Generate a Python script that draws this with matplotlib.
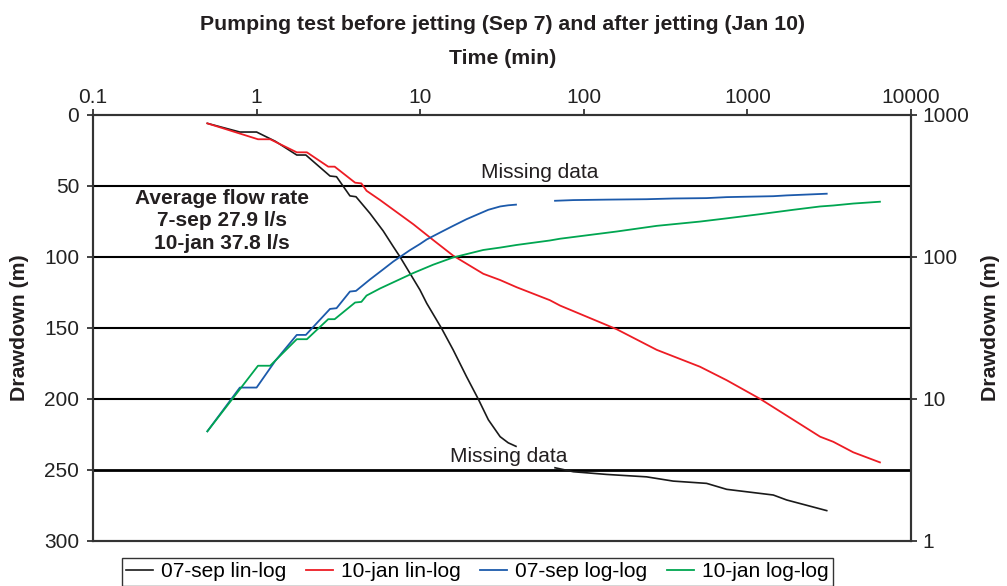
import numpy as np
import matplotlib
matplotlib.use("Agg")
import matplotlib.pyplot as plt

plt.rcParams['font.family'] = ['Liberation Sans', 'DejaVu Sans']

# Sep 7 test (before jetting): time (min), drawdown (m); nan marks the gap in the record
sep_time = [0.5, 0.79, 1.0, 1.3, 1.76, 2.0, 2.81, 3.08, 3.72, 4.05, 4.93, 5.94,
            6.85, 7.52, 8.66, 9.97, 10.96, 13.5, 15.9, 19.2, 22.6, 26.1, 30.8,
            34.5, 38.5, np.nan, 66.7, 86.3, 138, 242, 352, 563, 747, 1439, 1738, 3054]
sep_draw = [5.9, 12.0, 12.0, 18.5, 28.2, 28.2, 43.0, 43.5, 57.0, 57.6, 69.3, 81.7,
            92.8, 99.9, 111.6, 123.3, 132.7, 150.3, 165.5, 184.4, 200.0, 214.8, 226.7,
            231.0, 233.5, np.nan, 248.6, 251.4, 253.3, 255.0, 258.0, 259.6, 263.8, 267.8,
            271.3, 278.8]

# Jan 10 test (after jetting)
jan_time = [0.5, 1.02, 1.21, 1.76, 2.03, 2.74, 3.0, 4.0, 4.37, 4.7, 5.68, 9.08,
            12.0, 15.9, 24.3, 30.8, 38.9, 62, 71.6, 159, 279, 513, 747, 1194,
            1909, 2782, 3350, 4436, 6457]
jan_draw = [5.9, 17.1, 17.1, 26.3, 26.3, 36.4, 36.4, 47.7, 48.2, 53.4, 59.9, 77.0,
            88.1, 99.1, 111.9, 116.3, 121.4, 130.5, 134.3, 151.0, 165.5, 177.4, 186.9,
            200.0, 214.8, 226.7, 230.3, 237.7, 244.8]

x_ticks = [0.1, 1, 10, 100, 1000, 10000]
x_labels = ["0.1", "1", "10", "100", "1000", "10000"]
lin_ticks = [0, 50, 100, 150, 200, 250, 300]
log_ticks = [1, 10, 100, 1000]

c_black = "#1a1a1a"
c_red = "#ed1c24"
c_blue = "#1c5aab"
c_green = "#00a651"
fs = 15
fs_bold = 15.3

fig = plt.figure(figsize=(10.07, 5.86), dpi=100)
W, H = 1007, 586
ax = fig.add_axes([93 / W, 1 - 540.7 / H, (911 - 93) / W, (540.7 - 115) / H])
ax2 = ax.twinx()

# linear drawdown on the left axis
l1, = ax.plot(sep_time, sep_draw, color=c_black, lw=1.2, label="07-sep lin-log")
l2, = ax.plot(jan_time, jan_draw, color=c_red, lw=1.3, label="10-jan lin-log")
ax.set_xscale("log")
ax.set_xlim(0.1, 10000)
ax.set_ylim(300, 0)
ax.xaxis.tick_top()
ax.set_xticks(x_ticks)
ax.set_xticklabels(x_labels)
ax.xaxis.set_minor_locator(matplotlib.ticker.NullLocator())
ax.set_yticks(lin_ticks)
for v in lin_ticks[1:-1]:
    ax.axhline(v, color="black", lw=1.5 if v != 250 else 2.0, zorder=1)
ax.tick_params(axis="both", labelsize=fs, direction="out", length=4, width=1.2,
               colors="#222222", pad=6)
ax.tick_params(axis="x", pad=1.5)

# log drawdown on the right axis
l3, = ax2.plot(sep_time, sep_draw, color=c_blue, lw=1.3, label="07-sep log-log")
l4, = ax2.plot(jan_time, jan_draw, color=c_green, lw=1.3, label="10-jan log-log")
ax2.set_yscale("log")
ax2.set_ylim(1, 1000)
ax2.set_yticks(log_ticks)
ax2.set_yticklabels([str(v) for v in log_ticks])
ax2.yaxis.set_minor_locator(matplotlib.ticker.NullLocator())
ax2.tick_params(axis="y", labelsize=fs, direction="out", length=4, width=1.2,
                colors="#222222", pad=4)

for a in (ax, ax2):
    for sp in a.spines.values():
        sp.set_color("#333333")
        sp.set_linewidth(1.5)

ax.text(0.614, 74.7, "Average flow rate\n7-sep 27.9 l/s\n10-jan 37.8 l/s",
        ha="center", va="center", fontsize=fs, fontweight="bold",
        linespacing=1.22, color="#231f20")
ax.text(54, 40.5, "Missing data", ha="center", va="center", fontsize=fs, color="#231f20")
ax.text(34.7, 241, "Missing data", ha="center", va="center", fontsize=fs, color="#231f20")

fig.text(503 / W, 1 - 24 / H, "Pumping test before jetting (Sep 7) and after jetting (Jan 10)",
         ha="center", va="center", fontsize=fs_bold, fontweight="bold", color="#231f20")
fig.text(503 / W, 1 - 59 / H, "Time (min)", ha="center", va="center",
         fontsize=fs_bold, fontweight="bold", color="#231f20")
fig.text(20 / W, 1 - 328 / H, "Drawdown (m)", ha="center", va="center", rotation=90,
         fontsize=fs_bold, fontweight="bold", color="#231f20")
fig.text(991 / W, 1 - 328 / H, "Drawdown (m)", ha="center", va="center", rotation=90,
         fontsize=fs_bold, fontweight="bold", color="#231f20")

leg = fig.legend([l1, l2, l3, l4], [l.get_label() for l in (l1, l2, l3, l4)],
                 loc="upper left", bbox_to_anchor=(121.7 / W, 1 - 558.3 / H),
                 ncol=4, fontsize=fs, frameon=True, fancybox=False, borderaxespad=0,
                 handlelength=1.3, handletextpad=0.4, columnspacing=0.92, borderpad=0.2)
leg.get_frame().set_edgecolor("black")
leg.get_frame().set_linewidth(1.0)

fig.savefig("out.png", dpi=100)
